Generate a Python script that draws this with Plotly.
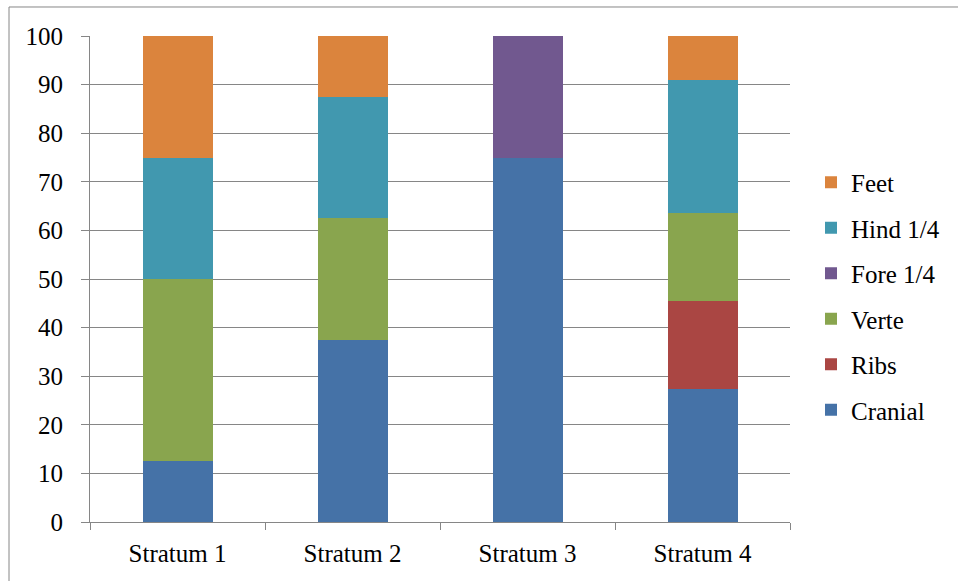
import plotly.graph_objects as go

strata = ["Stratum 1", "Stratum 2", "Stratum 3", "Stratum 4"]

# Percentage of bone elements per stratum (stacked bottom to top)
cranial = [12.5, 37.5, 75.0, 27.27]
ribs = [0, 0, 0, 18.18]
verte = [37.5, 25.0, 0, 18.18]
fore = [0, 0, 25.0, 0]
hind = [25.0, 25.0, 0, 27.27]
feet = [25.0, 12.5, 0, 9.1]

series = [
    ("Cranial", cranial, "#4572A7"),
    ("Ribs", ribs, "#AA4643"),
    ("Verte", verte, "#89A54E"),
    ("Fore 1/4", fore, "#71588F"),
    ("Hind 1/4", hind, "#4198AF"),
    ("Feet", feet, "#DB843D"),
]

y_ticks = list(range(0, 101, 10))

fig = go.Figure()
n = len(series)
for i, (name, vals, color) in enumerate(series):
    fig.add_trace(go.Bar(
        x=strata, y=vals, name=name, legendgroup=name, legendrank=n - i,
        marker=dict(color=color, line=dict(width=0)),
    ))

serif = "Liberation Serif, Times New Roman, serif"
font = dict(family=serif, size=25, color="black")
grey = "#868686"

fig.update_layout(
    width=958, height=581,
    barmode="stack", bargap=0.6,
    plot_bgcolor="white", paper_bgcolor="white",
    margin=dict(l=90, r=168, t=36, b=59),
    font=font,
    showlegend=True,
    legend=dict(
        traceorder="grouped", tracegroupgap=10,
        x=1.03, xanchor="left", y=0.465, yanchor="middle",
        font=dict(family=serif, size=25, color="black"),
        itemwidth=30, bgcolor="rgba(0,0,0,0)",
    ),
    xaxis=dict(
        showgrid=False, showline=True, linecolor=grey, linewidth=1,
        ticks="outside", ticklen=7, tickcolor=grey, tickson="boundaries",
        ticklabelstandoff=9, tickfont=dict(family=serif, size=25),
    ),
    yaxis=dict(
        range=[0, 100], tickvals=y_ticks, showgrid=True, gridcolor=grey, gridwidth=1,
        showline=True, linecolor=grey, linewidth=1,
        ticks="outside", ticklen=8, tickcolor=grey, ticklabelstandoff=13,
        zeroline=False, tickfont=dict(family=serif, size=25),
    ),
    shapes=[dict(
        type="rect", xref="paper", yref="paper",
        x0=-0.1157, x1=1.243, y0=-0.13, y1=1.0597,
        line=dict(color=grey, width=1), fillcolor="rgba(0,0,0,0)", layer="below",
    )],
)

fig.write_html("out.html")
